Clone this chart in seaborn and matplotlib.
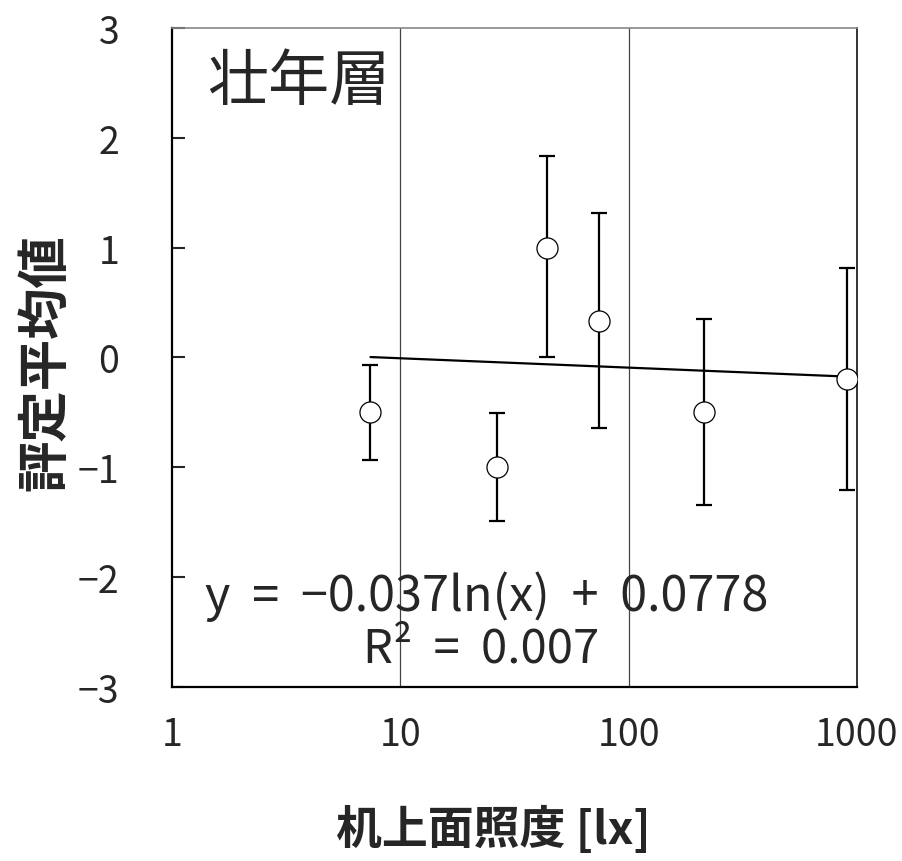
import numpy as np
import pandas as pd
import seaborn as sns
from matplotlib import pyplot as plt

# ----------------- data
illum = [7.4, 26.5, 44.0, 74.0, 214.0, 906.0]        # 机上面照度 [lx]
score = [-0.5, -1.0, 1.0, 0.333, -0.5, -0.2]         # 評定平均値
err_low = [0.43, 0.49, 1.0, 0.975, 0.84, 1.01]
err_high = [0.43, 0.49, 0.83, 0.98, 0.85, 1.01]

# log trend line shown on the chart
slope = -0.037
intercept = 0.0778
r2 = 0.007

xticks = [1, 10, 100, 1000]
yticks = [-3, -2, -1, 0, 1, 2, 3]

df = pd.DataFrame({'illum': illum, 'score': score})

sns.set_style("white")
plt.rcParams['font.family'] = ['Noto Sans CJK JP', 'DejaVu Sans']

fig = plt.figure(figsize=(9.02, 8.62), dpi=100)
ax = fig.add_axes([0.1907, 0.2019, 0.7594, 0.7645])

# trend line
xs = np.array([min(illum), max(illum)])
trend = pd.DataFrame({'x': xs, 'y': slope * np.log(xs) + intercept})
sns.lineplot(data=trend, x='x', y='y', color='black', linewidth=1.6, ax=ax, zorder=3)

# error bars
ax.errorbar(df.illum, df.score, yerr=[err_low, err_high], fmt='none',
            ecolor='black', elinewidth=1.6, capsize=5.5, capthick=1.6, zorder=4)

# points
sns.scatterplot(data=df, x='illum', y='score', s=230, color='white',
                edgecolor='black', linewidth=0.9, ax=ax, zorder=5)

ax.set_xscale('log')
ax.set_xlim(1, 1000)
ax.set_ylim(-3, 3)
ax.set_xticks(xticks)
ax.set_xticklabels([str(t) for t in xticks])
ax.set_yticks(yticks)
ax.minorticks_off()

ax.tick_params(axis='y', direction='in', length=9, width=1.5, pad=38,
               labelsize=27, left=True)
ax.tick_params(axis='x', length=0, pad=20, labelsize=27)

for xg in [10, 100]:
    ax.axvline(xg, color='#444444', linewidth=0.9, zorder=1)

for side in ['left', 'bottom']:
    ax.spines[side].set_color('black')
    ax.spines[side].set_linewidth(1.6)
ax.spines['top'].set_color('#888888')
ax.spines['top'].set_linewidth(1.2)
ax.spines['right'].set_color('#333333')
ax.spines['right'].set_linewidth(1.4)

ax.set_xlabel('')
ax.set_ylabel('')
fig.text(0.05, 0.579, '評定平均値', rotation=90, ha='center', va='center',
         fontsize=37, fontweight='bold')
fig.text(0.547, 0.037, '机上面照度 [lx]', ha='center', va='center',
         fontsize=33, fontweight='bold')

ax.text(0.051, 0.918, '壮年層', transform=ax.transAxes, ha='left', va='center',
        fontsize=44)
ax.text(0.459, 0.138, 'y  =  −0.037ln(x)  +  0.0778', transform=ax.transAxes,
        ha='center', va='center', fontsize=35)
ax.text(0.452, 0.058, 'R²  =  %.3f' % r2, transform=ax.transAxes,
        ha='center', va='center', fontsize=34)

fig.savefig('out.png', dpi=100)
